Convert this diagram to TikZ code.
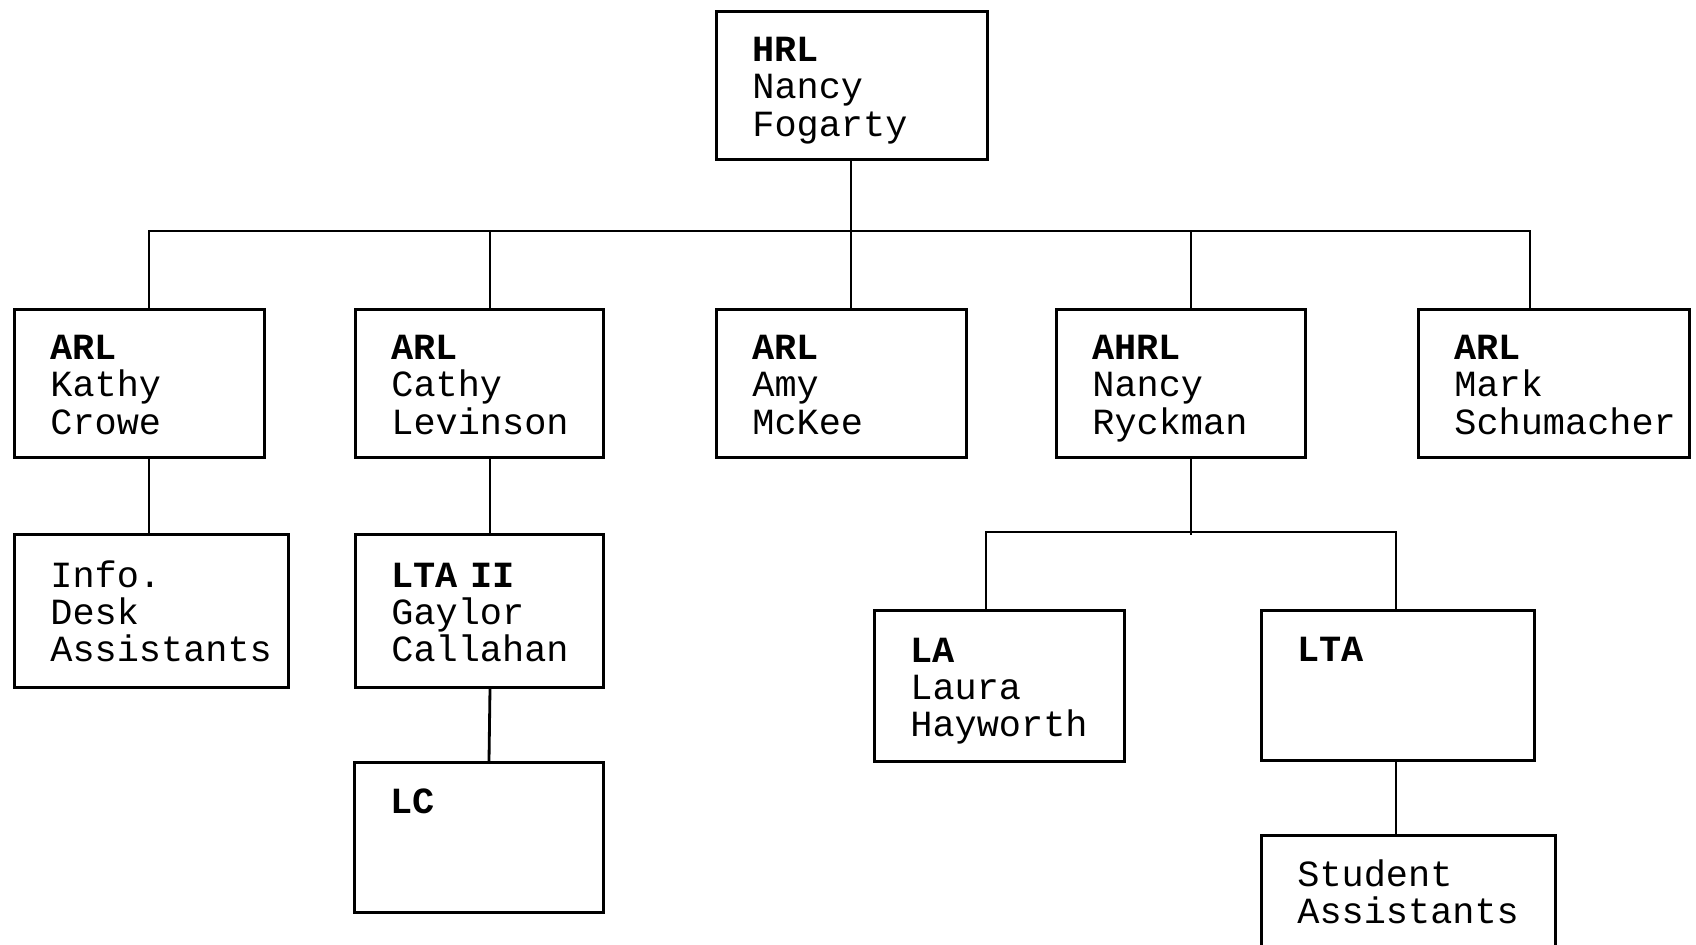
\documentclass[tikz,border=0pt]{standalone}
\usepackage{fontspec}
\setmonofont{Liberation Mono}
\usepackage{tikz}
\usetikzlibrary{positioning, calc}
\tikzset{
  % Staff box
  staffbox/.style={
    rectangle,
    draw=black,
    line width=0.8pt,
    anchor=north west,
    inner xsep=0.36cm,
    inner ysep=0pt,
    minimum height=1.48cm,
    align=left,
    font=\ttfamily\fontsize{10.5pt}{10.6pt}\selectfont,
    execute at begin node={\lineskiplimit=-10pt\relax\rule{0pt}{10.9pt}},
    execute at end node={\strut},
    text=black
  },
  % Reporting line
  orgline/.style={
    line width=0.8pt,
    draw=black
  }
}

\begin{document}
\begin{tikzpicture}

\fill[white] (0,0) rectangle (16.96,-9.45);
\useasboundingbox (0,0) rectangle (16.96,-9.45);
\clip (0,0) rectangle (16.96,-9.45);

%% === Head ===
\node[staffbox, text width=1.99cm] (hrl) at (7.15,-0.10) {\textbf{HRL}\\Nancy\\Fogarty};

%% === Second level ===
\node[staffbox, text width=1.78cm] (kathy) at (0.13,-3.08) {\textbf{ARL}\\Kathy\\Crowe};
\node[staffbox, text width=1.76cm] (cathy) at (3.54,-3.08) {\textbf{ARL}\\Cathy\\Levinson};
\node[staffbox, text width=1.78cm] (amy) at (7.15,-3.08) {\textbf{ARL}\\Amy\\McKee};
\node[staffbox, text width=1.77cm] (ahrl) at (10.55,-3.08) {\textbf{AHRL}\\Nancy\\Ryckman};
\node[staffbox, text width=1.99cm] (mark) at (14.17,-3.08) {\textbf{ARL}\\Mark\\Schumacher};

% Lines from head
\draw[orgline] ([xshift=1.36cm]hrl.south west) -- ([xshift=1.36cm]amy.north west);
\draw[orgline] ([xshift=1.36cm]kathy.north west) -- ++(0,0.77) -| ([xshift=1.13cm]mark.north west);
\draw[orgline] ([xshift=1.36cm]cathy.north west) -- ++(0,0.77);
\draw[orgline] ([xshift=1.36cm]ahrl.north west) -- ++(0,0.77);

%% === Left branches ===
\node[staffbox, text width=2.02cm, minimum height=1.53cm] (info) at (0.13,-5.33) {Info.\\Desk\\Assistants};
\node[staffbox, text width=1.76cm, minimum height=1.53cm] (ltaii) at (3.54,-5.33) {\textbf{LTA II}\\Gaylor\\Callahan};
\node[staffbox, text width=1.77cm, minimum height=1.50cm] (lc) at (3.53,-7.61) {\textbf{LC}\\~\\~};

\draw[orgline] ([xshift=1.36cm]kathy.south west) -- ([xshift=1.36cm]info.north west);
\draw[orgline] ([xshift=1.36cm]cathy.south west) -- ([xshift=1.36cm]ltaii.north west);
\draw[orgline] ([xshift=1.36cm]ltaii.south west) -- ([xshift=1.36cm]lc.north west);

%% === Right branch ===
\node[staffbox, text width=1.78cm, minimum height=1.51cm] (la) at (8.73,-6.09) {\textbf{LA}\\Laura\\Hayworth};
\node[staffbox, text width=2.01cm, minimum height=1.50cm] (lta) at (12.60,-6.09) {\textbf{LTA}\\~\\~};
\node[staffbox, text width=2.22cm, minimum height=1.50cm] (student) at (12.60,-8.34) {Student\\Assistants\\~};

\draw[orgline] ([xshift=1.36cm]ahrl.south west) -- ++(0,-0.76);
\draw[orgline] ([xshift=1.13cm]la.north west) -- ++(0,0.77) -| ([xshift=1.36cm]lta.north west);
\draw[orgline] ([xshift=1.36cm]lta.south west) -- ([xshift=1.36cm]student.north west);

\end{tikzpicture}
\end{document}
